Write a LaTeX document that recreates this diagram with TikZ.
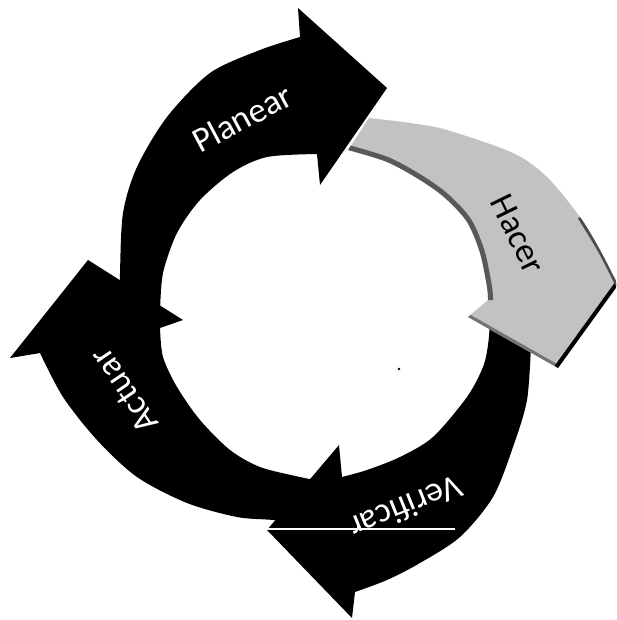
\documentclass[tikz,border=0pt]{standalone}
\usepackage{fontspec}
\setmainfont{Carlito}
\newcommand\hacerpath{(369,118) -- plot[smooth] coordinates {(369,118) (410,123) (447,130) (513,153) (547,177) (580,217) (600,250) (618,285)} -- (558,368) -- (468,317) -- (488,300) -- plot[smooth] coordinates {(488,300) (487,287) (480,253) (467,222) (445,198) (420,180) (387,162) (348,150)} -- cycle}
\begin{document}
\begin{tikzpicture}[x=1pt,y=-1pt,
  arrowfill/.style={fill=black},
  hacerfill/.style={fill=black!24},
  lbl/.style={text=white,font=\fontsize{35}{40}\selectfont,inner sep=0pt}]
\useasboundingbox (0,0) rectangle (616,620);
\clip (0,0) rectangle (616,620);
% Verificar
\fill[arrowfill] (490,322) -- plot[smooth] coordinates {(490,322) (488,345) (483,367) (467,397) (433,437) (400,457) (367,470) (342,477)} -- (339,445) -- (267,530) -- (352,618) -- plot[smooth] coordinates {(355,592) (387,580) (420,563) (460,537) (493,497) (513,447) (527,400) (531,345)} -- cycle;
% Actuar
\fill[arrowfill] (160,328) -- (183,320) -- (88,260) -- (10,358) -- plot[smooth] coordinates {(40,353) (63,397) (97,440) (137,477) (187,503) (237,517) (273,520) (300,524)} -- (325,482) -- plot[smooth] coordinates {(325,482) (300,477) (260,467) (230,450) (200,420) (177,387) (163,357) (160,328)} -- cycle;
% Hacer
\fill[hacerfill] \hacerpath;
\begin{scope}
  \clip \hacerpath;
  \draw[black!65,line width=10pt] plot[smooth] coordinates {(488,300) (487,287) (480,253) (467,222) (445,198) (420,180) (387,162) (348,150)};
  \draw[black!55,line width=6pt] (468,317) -- (558,368);
  \draw[black,line width=8pt] (558,368) -- (618,285);
  \draw[black!70,line width=5pt] plot[smooth] coordinates {(580,217) (600,250) (618,285)};
\end{scope}
% Planear
\fill[arrowfill] (120,300) -- plot[smooth] coordinates {(120,300) (120,273) (123,213) (137,167) (167,117) (210,73) (260,50) (300,37)} -- (298,8) -- (387,88) -- (320,185) -- (317,154) -- plot[smooth] coordinates {(317,154) (267,157) (233,172) (200,200) (177,233) (163,273) (160,312)} -- cycle;
% labels
\node[lbl,rotate=28] (planear) at (242,118) {Planear};
\node[lbl,rotate=124] (actuar) at (124,391) {Actuar};
\node[lbl,rotate=202] (verificar) at (406,508) {Verificar};
\node[lbl,text=black,rotate=-64] (hacer) at (518,234) {Hacer};
% scan artefacts
\coordinate (lineA) at (267,529);
\coordinate (lineB) at (455,529);
\draw[white,line width=1.5pt] (lineA) -- (lineB);
\fill[black] (399,369) circle (1.3);
\end{tikzpicture}
\end{document}
